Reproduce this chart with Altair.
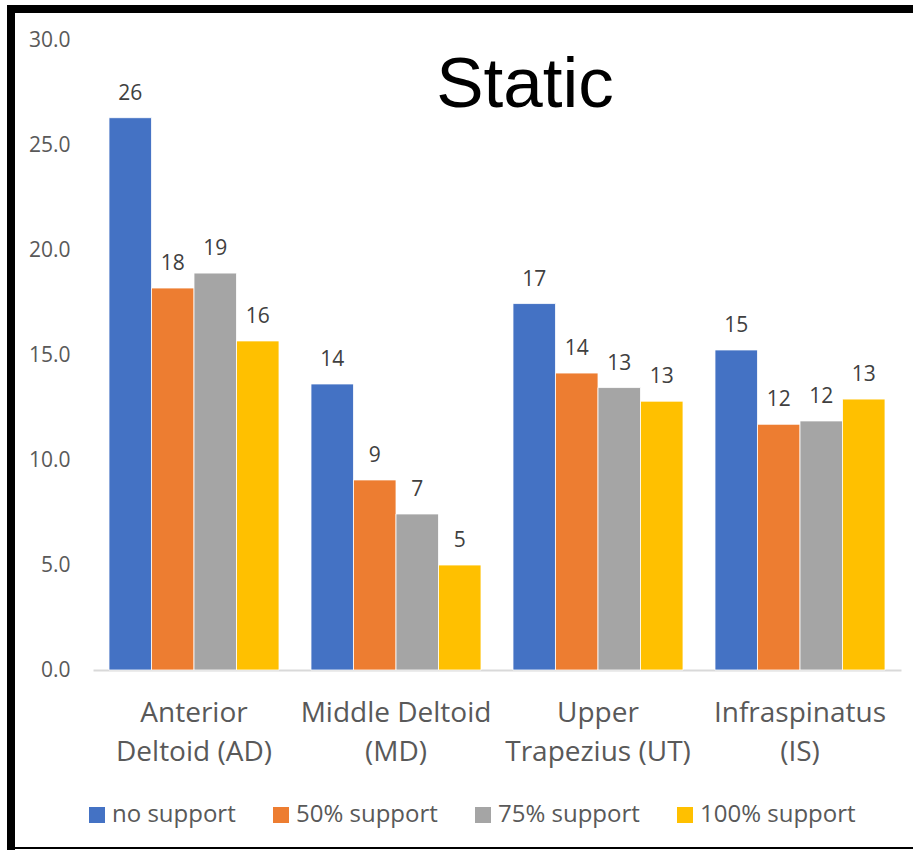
import altair as alt
import pandas as pd

# Muscle groups (x categories) and how each name wraps under the axis
muscles = ["Anterior Deltoid (AD)", "Middle Deltoid (MD)", "Upper Trapezius (UT)", "Infraspinatus (IS)"]
wrapped = {
    "Anterior Deltoid (AD)": ["Anterior", "Deltoid (AD)"],
    "Middle Deltoid (MD)": ["Middle Deltoid", "(MD)"],
    "Upper Trapezius (UT)": ["Upper", "Trapezius (UT)"],
    "Infraspinatus (IS)": ["Infraspinatus", "(IS)"],
}

# Support conditions (series)
conditions = ["no support", "50% support", "75% support", "100% support"]
colors = ["#4472C4", "#ED7D31", "#A5A5A5", "#FFC000"]

# Muscle activity per condition, one value per muscle
no_support = [26.3, 13.62, 17.45, 15.24]
support_50 = [18.19, 9.05, 14.14, 11.7]
support_75 = [18.9, 7.43, 13.45, 11.86]
support_100 = [15.67, 5.0, 12.8, 12.9]

rows = []
for cond, vals in zip(conditions, [no_support, support_50, support_75, support_100]):
    for m, v in zip(muscles, vals):
        rows.append({"muscle": m, "condition": cond, "value": v})
df = pd.DataFrame(rows)

label_expr = " : ".join(
    f"datum.value == '{k}' ? ['{a}', '{b}']" for k, (a, b) in wrapped.items()
) + " : datum.label"

FONT = "Open Sans"
W, H = 808, 630

x_enc = alt.X(
    "muscle:N",
    sort=muscles,
    title=None,
    scale=alt.Scale(paddingInner=0.1584, paddingOuter=0.0792),
    axis=alt.Axis(
        labelAngle=0,
        labelExpr=label_expr,
        labelFont=FONT,
        labelFontSize=28,
        labelColor="#595959",
        labelLineHeight=39,
        labelPadding=29,
        labelBaseline="top",
        labelLimit=400,
        labelOverlap=False,
        ticks=False,
        domainColor="#D9D9D9",
        domainWidth=2,
        grid=False,
    ),
)
y_enc = alt.Y(
    "value:Q",
    title=None,
    scale=alt.Scale(domain=[0, 30], nice=False),
    axis=alt.Axis(
        values=[0, 5, 10, 15, 20, 25, 30],
        format=".1f",
        labelFont=FONT,
        labelFontSize=21,
        labelColor="#595959",
        labelPadding=23,
        ticks=False,
        domain=False,
        grid=False,
    ),
)
xoff = alt.XOffset("condition:N", sort=conditions, scale=alt.Scale(paddingInner=0, paddingOuter=0))

base = alt.Chart(df)

bars = base.mark_bar(stroke="white", strokeWidth=0.8).encode(
    x=x_enc,
    xOffset=xoff,
    y=y_enc,
    color=alt.Color(
        "condition:N",
        sort=conditions,
        scale=alt.Scale(domain=conditions, range=colors),
        legend=alt.Legend(
            title=None,
            orient="none",
            direction="horizontal",
            legendX=-8,
            legendY=763,
            symbolType="square",
            symbolSize=256,
            symbolStrokeWidth=0,
            labelFont=FONT,
            labelFontSize=24,
            labelColor="#595959",
            labelOffset=3,
            columnPadding=33,
        ),
    ),
)

labels = base.mark_text(
    font=FONT, fontSize=21, color="#404040", baseline="alphabetic", dy=-18
).encode(
    x=alt.X("muscle:N", sort=muscles),
    xOffset=xoff,
    y="value:Q",
    text=alt.Text("value:Q", format=".0f"),
)

one = pd.DataFrame({"k": [0]})

title = alt.Chart(one).mark_text(
    text="Static", font="Liberation Sans", fontSize=71, color="black",
    align="center", baseline="alphabetic",
).encode(x=alt.value(432), y=alt.value(67))

# Frame around the figure
frame_top = alt.Chart(one).mark_rule(color="black", strokeWidth=8).encode(
    x=alt.value(-86), x2=alt.value(830), y=alt.value(-31)
)
frame_left = alt.Chart(one).mark_rule(color="black", strokeWidth=8).encode(
    x=alt.value(-82), y=alt.value(-35), y2=alt.value(812)
)
frame_bottom = alt.Chart(one).mark_rule(color="black", strokeWidth=2).encode(
    x=alt.value(-86), x2=alt.value(830), y=alt.value(808)
)

chart = (
    alt.layer(bars, labels, title, frame_top, frame_left, frame_bottom)
    .properties(
        width=W,
        height=H,
        autosize=alt.AutoSizeParams(type="none"),
        padding={"left": 93, "top": 40, "right": 12, "bottom": 180},
        background="white",
    )
    .configure_view(stroke=None)
)

chart.save("out.html", embed_options={"renderer": "svg", "actions": False})
